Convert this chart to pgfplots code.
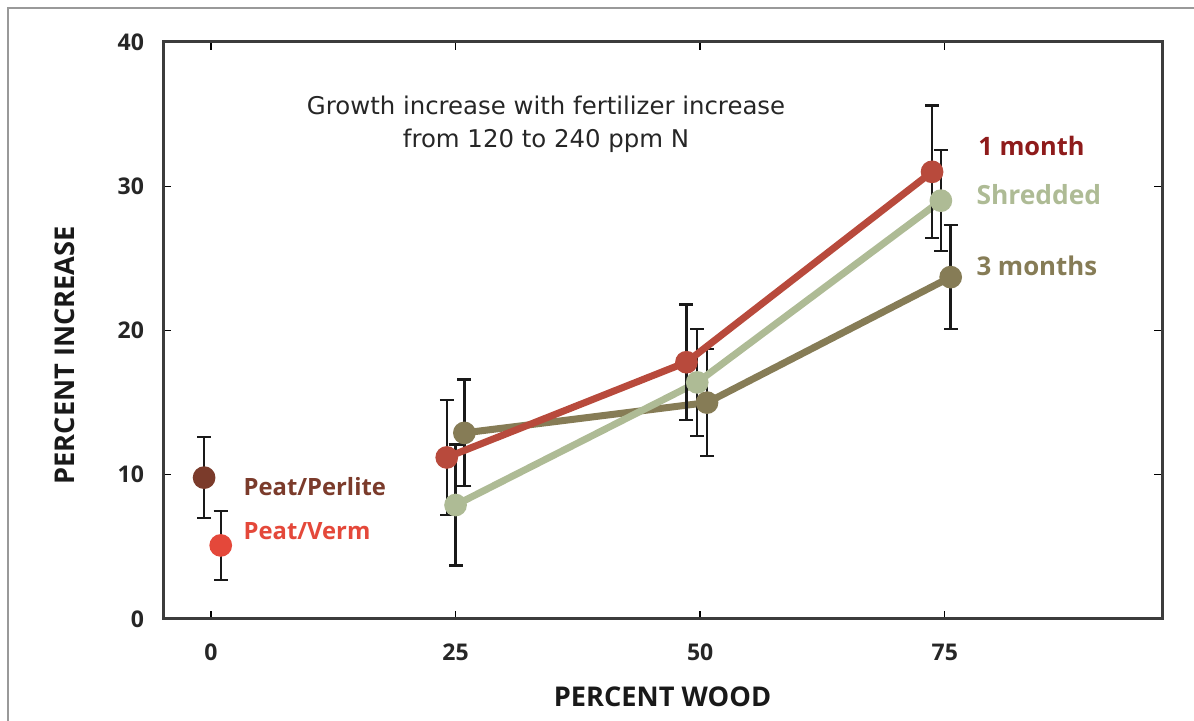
\documentclass[border=0pt]{standalone}
\usepackage{fontspec}
\setmainfont{Open Sans}
\newfontfamily\titlefont{DejaVu Sans}
\usepackage{pgfplots}
\pgfplotsset{compat=1.18}
\definecolor{onem}{HTML}{B84A3C}
\definecolor{onemtxt}{HTML}{8E1B1B}
\definecolor{shred}{HTML}{AEBB95}
\definecolor{threem}{HTML}{867C56}
\definecolor{perlite}{HTML}{7B3B2B}
\definecolor{verm}{HTML}{E4483A}
\definecolor{axisgray}{HTML}{3C3C3C}
\begin{document}
\begin{tikzpicture}
\useasboundingbox (0,0) rectangle (597pt,360.5pt);
\draw[gray!80, line width=0.9pt] (4pt,0) -- (4pt,356.5pt) -- (597pt,356.5pt);
\begin{axis}[
  at={(81.5pt,51pt)}, anchor=south west,
  scale only axis, width=499.5pt, height=288.5pt,
  xmin=-4.9, xmax=97.2, ymin=0, ymax=40,
  xtick={0,25,50,75}, ytick={0,10,20,30,40},
  tick align=inside, major tick length=4pt,
  axis line style={line width=1.5pt, color=axisgray},
  tick style={line width=0.7pt, color=black},
  /pgf/number format/assume math mode=true,
  ticklabel style={font=\fontsize{11.5}{14}\selectfont\bfseries, text=black!85},
  xticklabel style={yshift=-9pt},
  yticklabel style={xshift=-6pt},
  xlabel={PERCENT WOOD}, ylabel={PERCENT INCREASE},
  label style={font=\fontsize{13.6}{16}\selectfont\bfseries, text=black!90},
  xlabel style={at={(axis description cs:0.5,-0.135)}, anchor=center},
  ylabel style={at={(axis description cs:-0.098,0.457)}, anchor=center, rotate=0},
  clip=false,
  every axis plot/.append style={line width=3.5pt, mark=*, mark size=3.9pt,
     error bars/y dir=both, error bars/y explicit,
     error bars/error bar style={line width=1.2pt, color=black!90},
     error bars/error mark options={rotate=90, mark size=3.5pt, line width=1.2pt, color=black!90}},
]
\addplot[color=threem, mark options={fill=threem, draw=threem}] coordinates {
  (25.9,12.9) +- (0,3.7)
  (50.7,15.0) +- (0,3.7)
  (75.6,23.7) +- (0,3.6)
};
\addplot[color=shred, mark options={fill=shred, draw=shred}] coordinates {
  (25.0,7.9) +- (0,4.2)
  (49.7,16.4) +- (0,3.7)
  (74.6,29.0) +- (0,3.5)
};
\addplot[color=onem, mark options={fill=onem, draw=onem}] coordinates {
  (24.1,11.2) +- (0,4.0)
  (48.6,17.8) +- (0,4.0)
  (73.7,31.0) +- (0,4.6)
};
\addplot[only marks, color=perlite, mark options={fill=perlite, draw=perlite}] coordinates {
  (-0.7,9.8) +- (0,2.8)
};
\addplot[only marks, color=verm, mark options={fill=verm, draw=verm}] coordinates {
  (1.0,5.1) +- (0,2.4)
};
\node[align=center, font=\titlefont\fontsize{12.2}{16.5}\selectfont, text=black!85] at (axis cs:34.25,34.27)
  {Growth increase with fertilizer increase\\from 120 to 240 ppm N};
\node[anchor=west, inner sep=0pt, font=\fontsize{12.7}{15}\selectfont\bfseries, text=onemtxt] at (axis cs:78.4,32.8) {1 month};
\node[anchor=west, inner sep=0pt, font=\fontsize{13.2}{15}\selectfont\bfseries, text=shred] at (axis cs:78.2,29.4) {Shredded};
\node[anchor=west, inner sep=0pt, font=\fontsize{12.9}{15}\selectfont\bfseries, text=threem] at (axis cs:78.2,24.5) {3 months};
\node[anchor=west, inner sep=0pt, font=\fontsize{11.9}{14}\selectfont\bfseries, text=perlite] at (axis cs:3.3,9.2) {Peat/Perlite};
\node[anchor=west, inner sep=0pt, font=\fontsize{11.9}{14}\selectfont\bfseries, text=verm] at (axis cs:3.3,6.1) {Peat/Verm};
\end{axis}
\end{tikzpicture}
\end{document}
